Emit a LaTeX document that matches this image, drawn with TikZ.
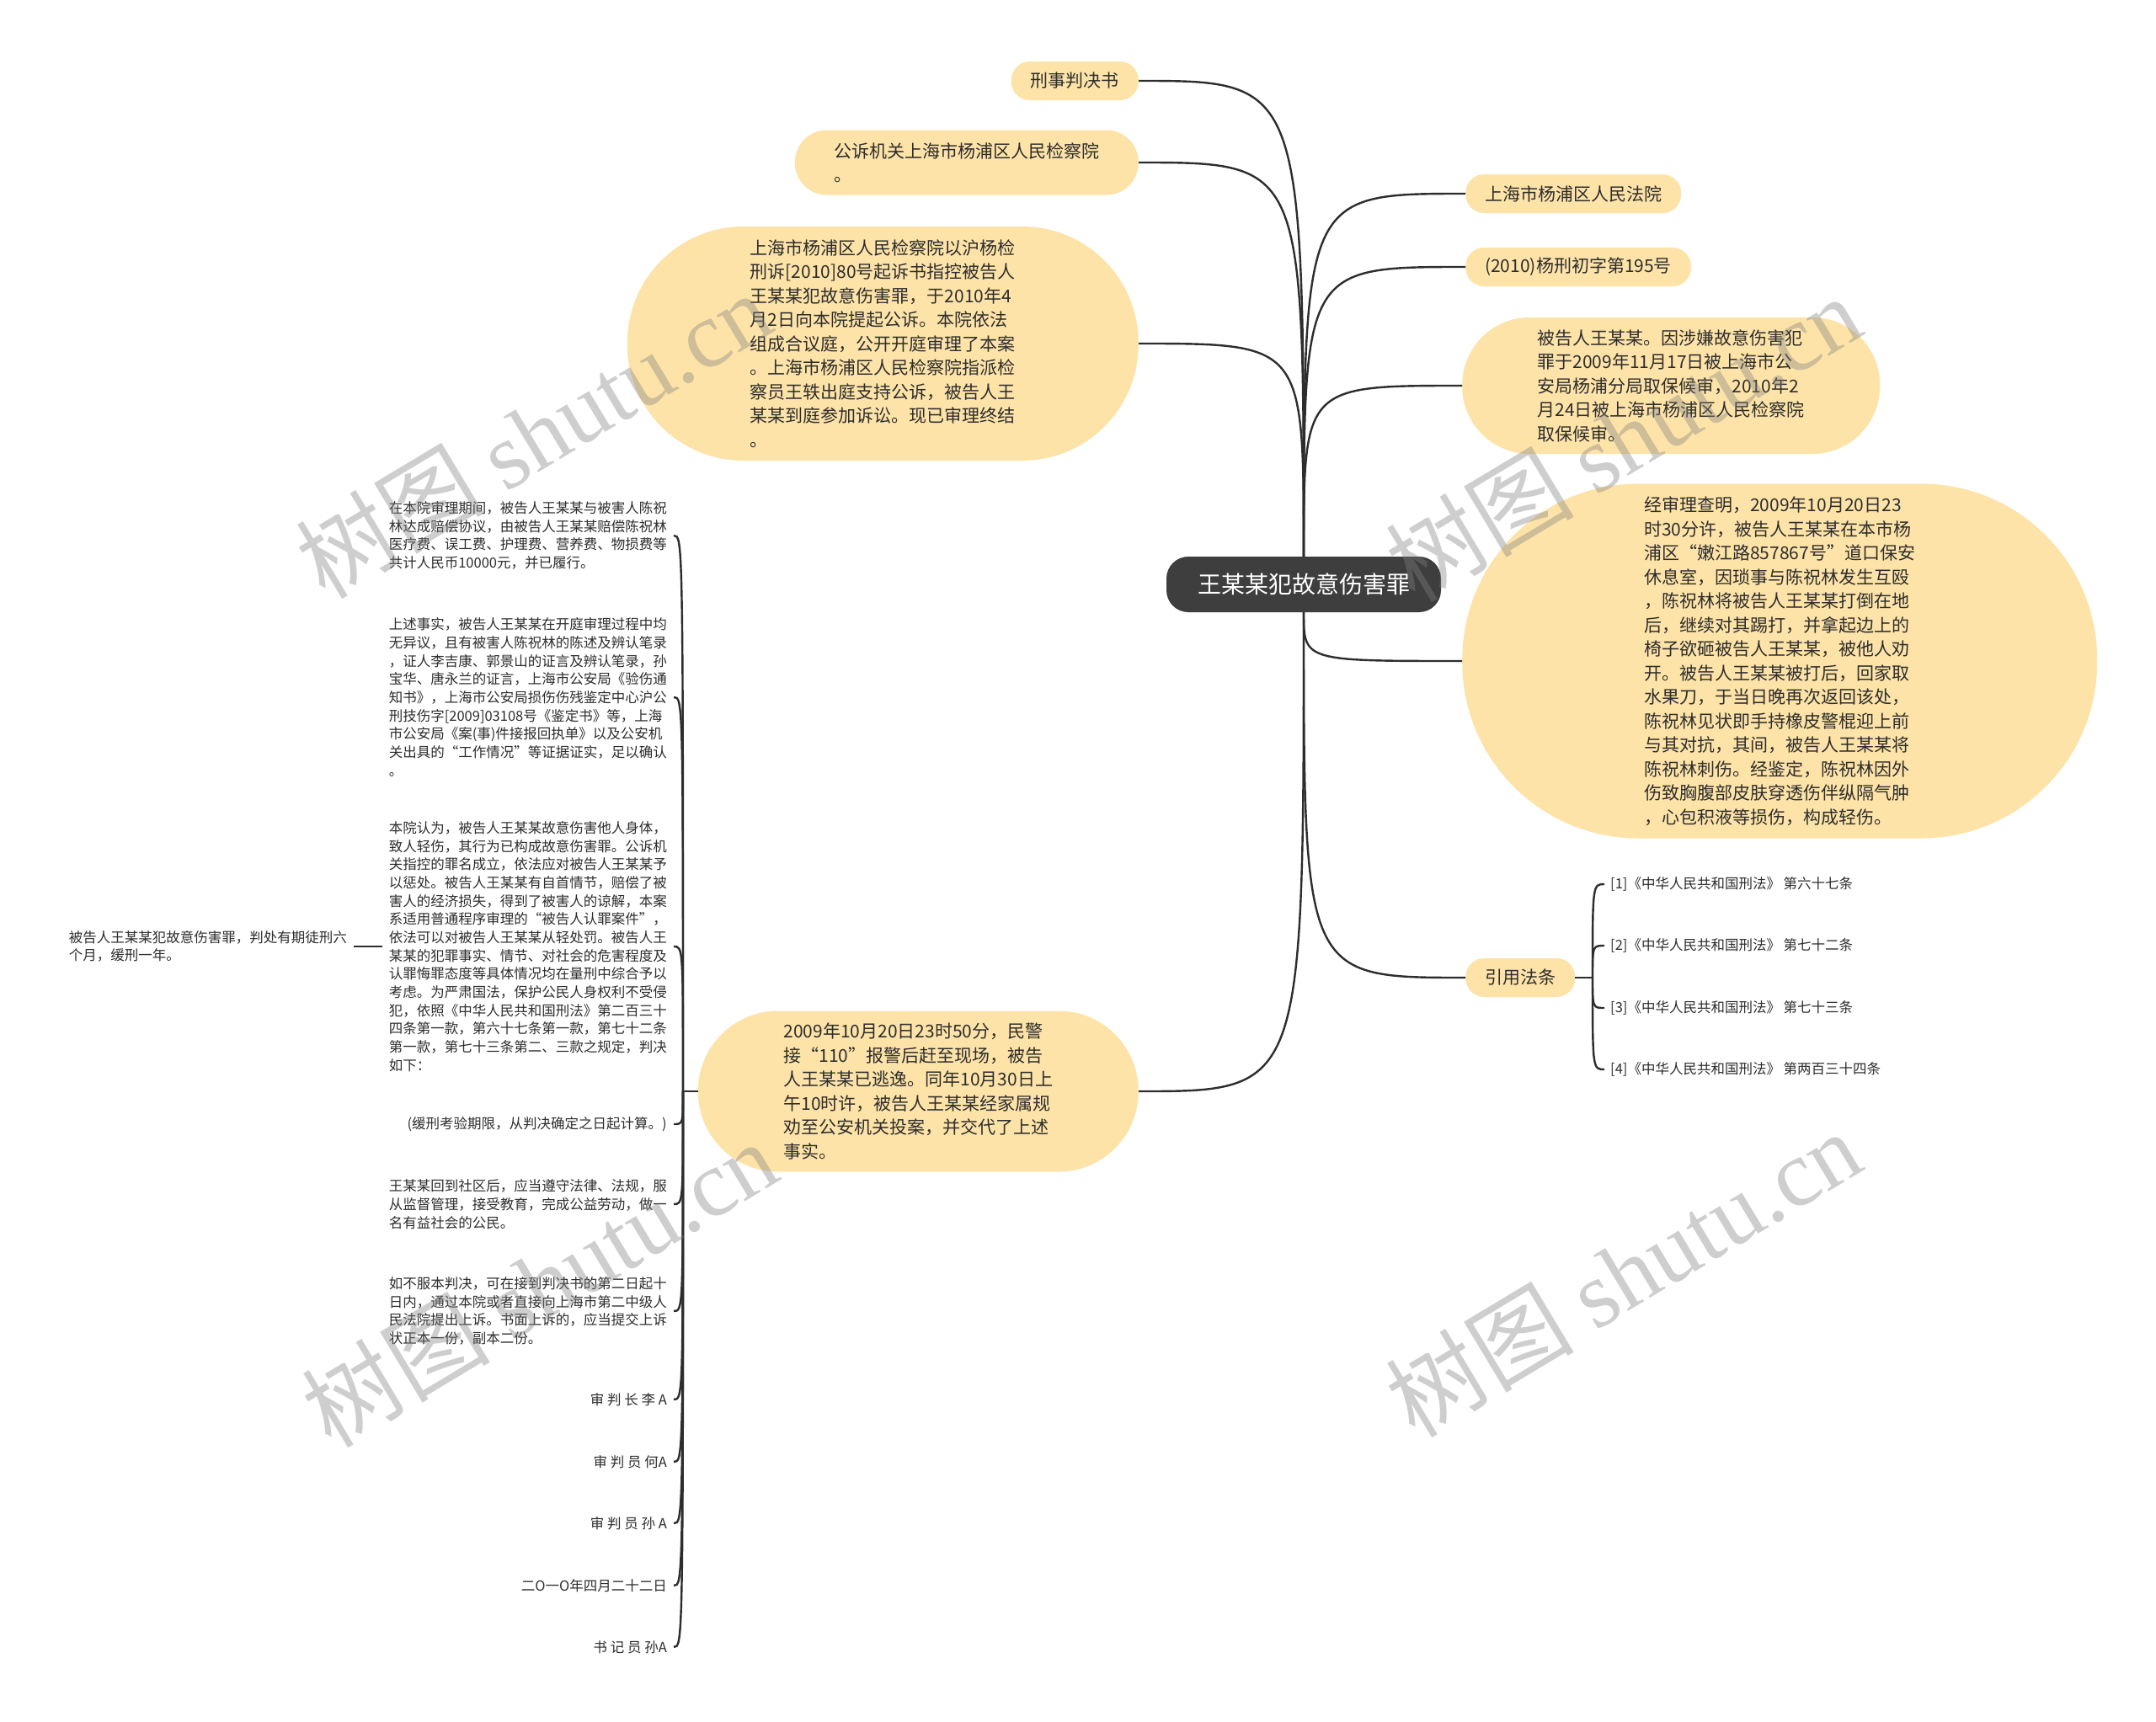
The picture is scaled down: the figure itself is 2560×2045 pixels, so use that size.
\documentclass[tikz,border=0pt]{standalone}
\usepackage{fontspec}
\setmainfont{Noto Sans CJK SC}
\newfontfamily\wmlatin{Liberation Serif}
\definecolor{bubble}{RGB}{253,227,168}
\definecolor{rootfill}{RGB}{62,62,62}
\definecolor{ink}{RGB}{45,45,45}
\newcommand{\bigfont}{\fontsize{21pt}{28.5pt}\selectfont}
\newcommand{\leaffont}{\fontsize{16.5pt}{21.7pt}\selectfont}
\tikzset{
  pill/.style={fill=bubble, text=ink, rounded corners=22pt, inner xsep=23pt, inner ysep=0pt,
    minimum height=46pt, align=left, font=\bigfont},
  blob/.style={fill=bubble, text=ink, inner sep=0pt, align=left, font=\bigfont},
  leaf/.style={text=ink, inner sep=8pt, align=left, font=\leaffont},
  wire/.style={draw=ink, line width=2.4pt},
  swoop/.style={to path={.. controls (\tikztostart |- \tikztotarget)
      and (\tikztostart |- \tikztotarget) .. (\tikztotarget)}},
  wmark/.style={text=gray, opacity=.38, rotate=31, font=\fontsize{112pt}{116pt}\selectfont}
}
\begin{document}
\begin{tikzpicture}[x=1pt, y=-1pt]
  \fill[white] (0,0) rectangle (2560,2045);
  % centre
  \node[fill=rootfill, text=white, rounded corners=26pt, minimum width=326pt,
    minimum height=66pt, font=\fontsize{28pt}{32pt}\selectfont] (root) at (1548,694) {王某某犯故意伤害罪};
  % left branch
  \node[pill, anchor=east] (n1) at (1352,96) {刑事判决书};
  \node[pill, anchor=east, minimum width=408pt, minimum height=77pt, rounded corners=38pt] (n2) at (1352,193) {公诉机关上海市杨浦区人民检察院\\。};
  \node[blob, anchor=east, minimum width=607pt, minimum height=278pt, rounded corners=138pt] (n3) at (1352,408) {上海市杨浦区人民检察院以沪杨检\\
    刑诉[2010]80号起诉书指控被告人\\
    王某某犯故意伤害罪，于2010年4\\
    月2日向本院提起公诉。本院依法\\
    组成合议庭，公开开庭审理了本案\\
    。上海市杨浦区人民检察院指派检\\
    察员王轶出庭支持公诉，被告人王\\
    某某到庭参加诉讼。现已审理终结\\
    。};
  \node[blob, anchor=east, minimum width=523pt, minimum height=191pt, rounded corners=95pt] (n4) at (1352,1296) {2009年10月20日23时50分，民警\\
    接“110”报警后赶至现场，被告\\
    人王某某已逃逸。同年10月30日上\\
    午10时许，被告人王某某经家属规\\
    劝至公安机关投案，并交代了上述\\
    事实。};
  % right branch
  \node[pill, anchor=west] (m1) at (1740,230) {上海市杨浦区人民法院};
  \node[pill, anchor=west] (m2) at (1740,317) {(2010)杨刑初字第195号};
  \node[blob, anchor=west, minimum width=496pt, minimum height=162pt, rounded corners=80pt] (m3) at (1736,458) {被告人王某某。因涉嫌故意伤害犯\\
    罪于2009年11月17日被上海市公\\
    安局杨浦分局取保候审，2010年2\\
    月24日被上海市杨浦区人民检察院\\
    取保候审。};
  \node[blob, anchor=west, minimum width=754pt, minimum height=421pt, rounded corners=209pt] (m4) at (1736,785) {经审理查明，2009年10月20日23\\
    时30分许，被告人王某某在本市杨\\
    浦区“嫩江路857867号”道口保安\\
    休息室，因琐事与陈祝林发生互殴\\
    ，陈祝林将被告人王某某打倒在地\\
    后，继续对其踢打，并拿起边上的\\
    椅子欲砸被告人王某某，被他人劝\\
    开。被告人王某某被打后，回家取\\
    水果刀，于当日晚再次返回该处，\\
    陈祝林见状即手持橡皮警棍迎上前\\
    与其对抗，其间，被告人王某某将\\
    陈祝林刺伤。经鉴定，陈祝林因外\\
    伤致胸腹部皮肤穿透伤伴纵隔气肿\\
    ，心包积液等损伤，构成轻伤。};
  \node[pill, anchor=west] (m5) at (1740,1161) {引用法条};
  % cited articles
  \node[leaf, anchor=west, inner sep=7pt] (l1) at (1905,1050) {[1]《中华人民共和国刑法》 第六十七条};
  \node[leaf, anchor=west, inner sep=7pt] (l2) at (1905,1123) {[2]《中华人民共和国刑法》 第七十二条};
  \node[leaf, anchor=west, inner sep=7pt] (l3) at (1905,1197) {[3]《中华人民共和国刑法》 第七十三条};
  \node[leaf, anchor=west, inner sep=7pt] (l4) at (1905,1270) {[4]《中华人民共和国刑法》 第两百三十四条};
  % judgment text column
  \node[leaf, anchor=east] (c1) at (800,636) {在本院审理期间，被告人王某某与被害人陈祝\\
    林达成赔偿协议，由被告人王某某赔偿陈祝林\\
    医疗费、误工费、护理费、营养费、物损费等\\
    共计人民币10000元，并已履行。};
  \node[leaf, anchor=east] (c2) at (800,828) {上述事实，被告人王某某在开庭审理过程中均\\
    无异议，且有被害人陈祝林的陈述及辨认笔录\\
    ，证人李吉康、郭景山的证言及辨认笔录，孙\\
    宝华、唐永兰的证言，上海市公安局《验伤通\\
    知书》，上海市公安局损伤伤残鉴定中心沪公\\
    刑技伤字[2009]03108号《鉴定书》等，上海\\
    市公安局《案(事)件接报回执单》以及公安机\\
    关出具的“工作情况”等证据证实，足以确认\\
    。};
  \node[leaf, anchor=east] (c3) at (800,1124) {本院认为，被告人王某某故意伤害他人身体，\\
    致人轻伤，其行为已构成故意伤害罪。公诉机\\
    关指控的罪名成立，依法应对被告人王某某予\\
    以惩处。被告人王某某有自首情节，赔偿了被\\
    害人的经济损失，得到了被害人的谅解，本案\\
    系适用普通程序审理的“被告人认罪案件”，\\
    依法可以对被告人王某某从轻处罚。被告人王\\
    某某的犯罪事实、情节、对社会的危害程度及\\
    认罪悔罪态度等具体情况均在量刑中综合予以\\
    考虑。为严肃国法，保护公民人身权利不受侵\\
    犯，依照《中华人民共和国刑法》第二百三十\\
    四条第一款，第六十七条第一款，第七十二条\\
    第一款，第七十三条第二、三款之规定，判决\\
    如下：};
  \node[leaf, anchor=east] (c4) at (800,1335) {(缓刑考验期限，从判决确定之日起计算。)};
  \node[leaf, anchor=east] (c5) at (800,1430) {王某某回到社区后，应当遵守法律、法规，服\\
    从监督管理，接受教育，完成公益劳动，做一\\
    名有益社会的公民。};
  \node[leaf, anchor=east] (c6) at (800,1557) {如不服本判决，可在接到判决书的第二日起十\\
    日内，通过本院或者直接向上海市第二中级人\\
    民法院提出上诉。书面上诉的，应当提交上诉\\
    状正本一份，副本二份。};
  \node[leaf, anchor=east] (c7) at (800,1662) {审 判 长 李 A};
  \node[leaf, anchor=east] (c8) at (800,1736) {审 判 员 何A};
  \node[leaf, anchor=east] (c9) at (800,1809) {审 判 员 孙 A};
  \node[leaf, anchor=east] (c10) at (800,1883) {二O一O年四月二十二日};
  \node[leaf, anchor=east] (c11) at (800,1956) {书 记 员 孙A};
  \node[leaf, anchor=east] (verdict) at (420,1124) {被告人王某某犯故意伤害罪，判处有期徒刑六\\
    个月，缓刑一年。};
  % connectors
  \foreach \nm in {n1,n2,n3}
    \draw[wire] (root.north) to[swoop] (\nm.east);
  \foreach \nm in {m1,m2,m3}
    \draw[wire] (root.north) to[swoop] (\nm.west);
  \draw[wire] (root.south) to[swoop] (m4.west);
  \draw[wire] (root.south) to[swoop] (m5.west);
  \draw[wire] (root.south) to[swoop] (n4.east);
  \coordinate (fk4) at (811,1296);
  \draw[wire] (n4.west) -- (fk4);
  \foreach \i in {1,...,11}
    \draw[wire] (fk4) to[swoop] (c\i.east);
  \draw[wire] (c3.west) -- (verdict.east);
  \coordinate (fk5) at (1891,1161);
  \draw[wire] (m5.east) -- (fk5);
  \foreach \i in {1,...,4}
    \draw[wire] (fk5) to[swoop] (l\i.west);
  % watermarks
  \foreach \wx/\wy in {633/516, 1927/520, 640/1524, 1927/1512}
    \node[wmark] (wm-\wx-\wy) at (\wx,\wy) {树图 {\wmlatin shutu.cn}};
  \useasboundingbox (0,0) rectangle (2560,2045);
\end{tikzpicture}
\end{document}
